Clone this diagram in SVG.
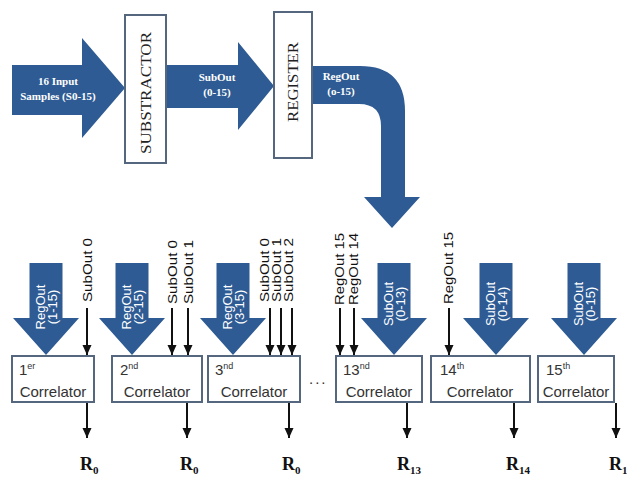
<svg xmlns="http://www.w3.org/2000/svg" width="627" height="477" viewBox="0 0 627 477">
<defs>
<style>
.blue{fill:#2e5b94}
.box{fill:#fff;stroke:#55677e;stroke-width:2}
.ttl{font-family:"Liberation Serif",serif;font-size:14px;fill:#222;text-anchor:middle}
.aw{font-family:"Liberation Serif",serif;font-size:11px;font-weight:bold;fill:#fff;text-anchor:middle}
.bl{font-family:"Liberation Sans",Arial,sans-serif;font-size:13px;fill:#fff;text-anchor:middle}
.sm{font-family:"Liberation Sans",Arial,sans-serif;font-size:13px;fill:#111}
.cor{font-family:"Liberation Sans",Arial,sans-serif;font-size:15px;fill:#333}
.sup{font-size:9px}
.r{font-family:"Liberation Serif",serif;font-size:18px;font-weight:bold;fill:#111}
.rs{font-size:11px}
.ln{stroke:#111;stroke-width:2;fill:none;marker-end:url(#ah)}
</style>
<marker id="ah" markerUnits="userSpaceOnUse" markerWidth="10" markerHeight="10" refX="10" refY="4.5" orient="auto">
<path d="M0,0 L10,4.5 L0,9 Z" fill="#111"/>
</marker>
</defs>

<g id="connectors">
<!-- top flow arrows -->
<path class="blue" d="M12,65 L82,65 L82,38 L125,88 L82,138 L82,115 L12,115 Z"/>
<path class="blue" d="M166,65 L238,65 L238,42 L274,86 L238,130 L238,108 L166,108 Z"/>
<path class="blue" d="M312,66 L360,66 Q405,66 405,111 L405,197 L420,197 L392,228 L364,197 L381,197 L381,126 Q381,104 359,104 L312,104 Z"/>
<!-- blue down arrows to correlators -->
<path class="blue" d="M29.5,263 h33 v55 h16.5 L46,355 L13,318 h16.5 Z"/>
<path class="blue" d="M115.5,263 h33 v55 h16.5 L132,355 L99,318 h16.5 Z"/>
<path class="blue" d="M216.5,263 h33 v55 h16.5 L233,355 L200,318 h16.5 Z"/>
<path class="blue" d="M377.5,263 h33 v55 h16.5 L394,355 L361,318 h16.5 Z"/>
<path class="blue" d="M479.5,263 h33 v55 h16.5 L496,355 L463,318 h16.5 Z"/>
<path class="blue" d="M567.5,263 h33 v55 h16.5 L584,355 L551,318 h16.5 Z"/>
<!-- thin input arrows -->
<line class="ln" x1="87" y1="308" x2="87" y2="355"/>
<line class="ln" x1="172" y1="308" x2="172" y2="355"/>
<line class="ln" x1="188" y1="308" x2="188" y2="355"/>
<line class="ln" x1="270" y1="308" x2="270" y2="355"/>
<line class="ln" x1="281" y1="308" x2="281" y2="355"/>
<line class="ln" x1="292" y1="308" x2="292" y2="355"/>
<line class="ln" x1="340" y1="308" x2="340" y2="355"/>
<line class="ln" x1="354" y1="308" x2="354" y2="355"/>
<line class="ln" x1="449" y1="308" x2="449" y2="355"/>
<!-- output arrows -->
<line class="ln" x1="87" y1="403" x2="87" y2="438"/>
<line class="ln" x1="187" y1="403" x2="187" y2="438"/>
<line class="ln" x1="289" y1="403" x2="289" y2="438"/>
<line class="ln" x1="407" y1="403" x2="407" y2="438"/>
<line class="ln" x1="514" y1="403" x2="514" y2="438"/>
<line class="ln" x1="616" y1="403" x2="616" y2="438"/>
</g>

<g id="labels">
<text class="aw" x="58" y="85">16 Input</text>
<text class="aw" x="58" y="100">Samples (S0-15)</text>
<text class="aw" x="217" y="81">SubOut</text>
<text class="aw" x="217" y="96">(0-15)</text>
<text class="aw" x="341" y="80">RegOut</text>
<text class="aw" x="341" y="95">(o-15)</text>

<text class="bl" transform="translate(46,307) rotate(-90)"><tspan x="0" y="-1.5">RegOut</tspan><tspan x="0" y="10.7">(1-15)</tspan></text>
<text class="bl" transform="translate(132,307) rotate(-90)"><tspan x="0" y="-1.5">RegOut</tspan><tspan x="0" y="10.7">(2-15)</tspan></text>
<text class="bl" transform="translate(233,307) rotate(-90)"><tspan x="0" y="-1.5">RegOut</tspan><tspan x="0" y="10.7">(3-15)</tspan></text>
<text class="bl" transform="translate(394,304) rotate(-90)"><tspan x="0" y="-1.5">SubOut</tspan><tspan x="0" y="10.7">(0-13)</tspan></text>
<text class="bl" transform="translate(496,304) rotate(-90)"><tspan x="0" y="-1.5">SubOut</tspan><tspan x="0" y="10.7">(0-14)</tspan></text>
<text class="bl" transform="translate(584,304) rotate(-90)"><tspan x="0" y="-1.5">SubOut</tspan><tspan x="0" y="10.7">(0-15)</tspan></text>

<text class="sm" transform="translate(92,302) rotate(-90)" textLength="64" lengthAdjust="spacingAndGlyphs">SubOut 0</text>
<text class="sm" transform="translate(177,304) rotate(-90)" textLength="64" lengthAdjust="spacingAndGlyphs">SubOut 0</text>
<text class="sm" transform="translate(193,304) rotate(-90)" textLength="64" lengthAdjust="spacingAndGlyphs">SubOut 1</text>
<text class="sm" transform="translate(269,302) rotate(-90)" textLength="64" lengthAdjust="spacingAndGlyphs">SubOut 0</text>
<text class="sm" transform="translate(281,302) rotate(-90)" textLength="64" lengthAdjust="spacingAndGlyphs">SubOut 1</text>
<text class="sm" transform="translate(293,302) rotate(-90)" textLength="64" lengthAdjust="spacingAndGlyphs">SubOut 2</text>
<text class="sm" transform="translate(344,305) rotate(-90)" textLength="72" lengthAdjust="spacingAndGlyphs">RegOut 15</text>
<text class="sm" transform="translate(358,305) rotate(-90)" textLength="72" lengthAdjust="spacingAndGlyphs">RegOut 14</text>
<text class="sm" transform="translate(453,304) rotate(-90)" textLength="72" lengthAdjust="spacingAndGlyphs">RegOut 15</text>

<text class="cor" x="309" y="384" letter-spacing="2">...</text>

<text class="r" x="80" y="470">R<tspan class="rs" dy="4">0</tspan></text>
<text class="r" x="180" y="470">R<tspan class="rs" dy="4">0</tspan></text>
<text class="r" x="282" y="470">R<tspan class="rs" dy="4">0</tspan></text>
<text class="r" x="397" y="470">R<tspan class="rs" dy="4">13</tspan></text>
<text class="r" x="506" y="470">R<tspan class="rs" dy="4">14</tspan></text>
<text class="r" x="609" y="470">R<tspan class="rs" dy="4">1</tspan></text>
</g>

<g id="subtractor">
<rect class="box" x="125" y="15" width="41" height="148"/>
<text class="ttl" transform="translate(146,93) rotate(-90)" y="5" textLength="122" lengthAdjust="spacingAndGlyphs">SUBSTRACTOR</text>
</g>
<g id="register">
<rect class="box" x="274" y="12" width="38" height="146"/>
<text class="ttl" transform="translate(293,82) rotate(-90)" y="5" textLength="80" lengthAdjust="spacingAndGlyphs">REGISTER</text>
</g>

<g id="correlator1">
<rect class="box" x="12" y="356" width="82" height="46"/>
<text class="cor" x="19" y="375">1<tspan class="sup" dy="-6">er</tspan></text>
<text class="cor" x="53" y="397" text-anchor="middle">Correlator</text>
</g>
<g id="correlator2">
<rect class="box" x="112" y="356" width="90" height="46"/>
<text class="cor" x="120" y="375">2<tspan class="sup" dy="-6">nd</tspan></text>
<text class="cor" x="157" y="397" text-anchor="middle">Correlator</text>
</g>
<g id="correlator3">
<rect class="box" x="208" y="356" width="92" height="46"/>
<text class="cor" x="215" y="375">3<tspan class="sup" dy="-6">nd</tspan></text>
<text class="cor" x="254" y="397" text-anchor="middle">Correlator</text>
</g>
<g id="correlator13">
<rect class="box" x="336" y="356" width="86" height="46"/>
<text class="cor" x="343" y="375">13<tspan class="sup" dy="-6">nd</tspan></text>
<text class="cor" x="379" y="397" text-anchor="middle">Correlator</text>
</g>
<g id="correlator14">
<rect class="box" x="431" y="356" width="99" height="46"/>
<text class="cor" x="440" y="375">14<tspan class="sup" dy="-6">th</tspan></text>
<text class="cor" x="480" y="397" text-anchor="middle">Correlator</text>
</g>
<g id="correlator15">
<rect class="box" x="538" y="356" width="76" height="46"/>
<text class="cor" x="546" y="375">15<tspan class="sup" dy="-6">th</tspan></text>
<text class="cor" x="576" y="397" text-anchor="middle">Correlator</text>
</g>
</svg>
